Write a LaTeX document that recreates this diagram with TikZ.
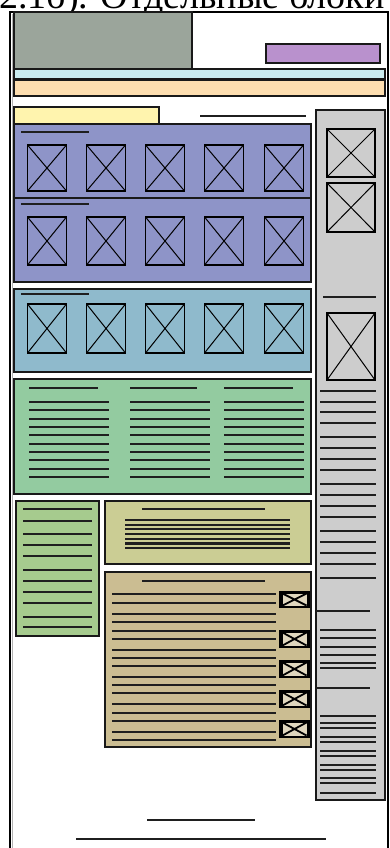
\documentclass[tikz,border=0pt]{standalone}
\usepackage{fontspec}
\setmainfont{Liberation Serif}
\definecolor{logogray}{RGB}{155,165,155}
\definecolor{menupurple}{RGB}{185,145,205}
\definecolor{barcyan}{RGB}{202,236,240}
\definecolor{barpeach}{RGB}{253,222,176}
\definecolor{tabyellow}{RGB}{255,244,174}
\definecolor{galblue}{RGB}{142,148,200}
\definecolor{galsky}{RGB}{143,186,204}
\definecolor{newsgreen}{RGB}{147,203,160}
\definecolor{leftgreen}{RGB}{166,203,142}
\definecolor{boxolive}{RGB}{203,205,148}
\definecolor{boxtan}{RGB}{203,189,146}
\definecolor{sidegray}{RGB}{205,205,205}
\tikzset{
  blk/.style={draw=black!90, line width=1.6pt},
  txl/.style={line width=2.1pt, black!88},
  phfr/.style={draw=black, line width=1.8pt},
  xline/.style={line width=1pt, black},
  frame/.style={draw=black, line width=2.4pt}}
% image placeholder: x1,y1,x2,y2
\newcommand{\phbox}[4]{%
  \draw[phfr] (#1,#2) rectangle (#3,#4);
  \draw[xline] (#1,#2) -- (#3,#4) (#1,#4) -- (#3,#2);}
% small icon in the tan box: y top, y bottom
\newcommand{\miniph}[2]{%
  \fill[black] (279,#1) rectangle (310,#2);
  \fill[boxtan!60] (282.5,#1+2.5) rectangle (306.5,#2-2.5);
  \draw[line width=1.8pt] (282.5,#1+2.5) -- (306.5,#2-2.5) (282.5,#2-2.5) -- (306.5,#1+2.5);}

\begin{document}
\begin{tikzpicture}[x=1pt, y=-1pt]
  \useasboundingbox (0,0) rectangle (390,848);
  \node[anchor=base west, inner sep=0pt, font=\fontsize{38}{40}\selectfont] (title) at (-1,9) {2.1б). Отдельные блоки};
  % page frame
  \draw[frame] (10,860) -- (10,12) -- (388,12) -- (388,860);
  \draw[gray!60, line width=0.8pt] (12.8,14) -- (12.8,860);
  % header
  \filldraw[blk, fill=logogray] (14,12) rectangle (192,69);
  \filldraw[blk, fill=menupurple] (266,44) rectangle (380,63);
  \filldraw[blk, fill=barcyan] (14,69) rectangle (385,79);
  \filldraw[blk, fill=barpeach] (14,80) rectangle (385,96);
  \filldraw[blk, fill=tabyellow] (14,107) rectangle (159,124);
  \draw[txl] (200,116) -- (306,116);
  % galleries
  \filldraw[blk, fill=galblue] (14,124) rectangle (311,198);
  \filldraw[blk, fill=galblue] (14,198) rectangle (311,282);
  \filldraw[blk, fill=galsky] (14,289) rectangle (311,372);
  \foreach \yy in {132,204,294}
    \draw[txl] (21,\yy) -- (89,\yy);
  \foreach \cx in {47,106,165,224,284} {
    \phbox{\cx-19.5}{145}{\cx+19.5}{191}
    \phbox{\cx-19.5}{217}{\cx+19.5}{265}
    \phbox{\cx-19.5}{304}{\cx+19.5}{353}
  }
  % news columns
  \filldraw[blk, fill=newsgreen] (14,379) rectangle (311,494);
  \foreach \xa/\xb/\xh in {29/109/98, 130/210/197, 224/304/293} {
    \draw[txl] (\xa,388) -- (\xh,388);
    \foreach \k in {0,...,9}
      \draw[txl] (\xa,402+\k*8.33) -- (\xb,402+\k*8.33);
  }
  % left column
  \filldraw[blk, fill=leftgreen] (16,501) rectangle (99,636);
  \foreach \yy in {509.3,520.7,534,545,556,570,580.7,591.7,602.7,616.7,627.3}
    \draw[txl] (23,\yy) -- (92,\yy);
  % olive box
  \filldraw[blk, fill=boxolive] (105,501) rectangle (311,564);
  \draw[txl] (142,509) -- (265,509);
  \foreach \k in {0,...,6}
    \draw[txl] (125,520+\k*4.7) -- (290,520+\k*4.7);
  % tan box
  \filldraw[blk, fill=boxtan] (105,572) rectangle (311,747);
  \draw[txl] (142,581) -- (265,581);
  \foreach \yy in {594.3,602.7,614,622.3,630.7,639,650,658.3,666,676.7,685,693.3,704.3,712.7,720.7,731.7,740}
    \draw[txl] (112,\yy) -- (276,\yy);
  \miniph{591}{608}
  \miniph{630}{648}
  \miniph{660}{678}
  \miniph{690}{708}
  \miniph{720}{738}
  % sidebar
  \filldraw[blk, fill=sidegray] (316,110) rectangle (385,800);
  \phbox{327}{129}{375}{177}
  \phbox{327}{183}{375}{232}
  \draw[txl] (323,297) -- (376,297);
  \phbox{327}{313}{375}{380}
  \foreach \yy in {390.7,401.7,412.3,423.3,437.3,448.3,459.3,470,484.3,495,506,517.3,531,541.7,552.7,564,577.7,630,638.3,646.7,655,663.3,668.3,715.7,723.3,728.3,736.7,741.7,750.7,756,765,770,778.3,783.3,792.7}
    \draw[txl] (320,\yy) -- (376,\yy);
  \foreach \yy in {611,687.7}
    \draw[txl] (316,\yy) -- (370,\yy);
  % footer
  \draw[txl] (147,820) -- (255,820);
  \draw[txl] (76,839) -- (326,839);
\end{tikzpicture}
\end{document}
